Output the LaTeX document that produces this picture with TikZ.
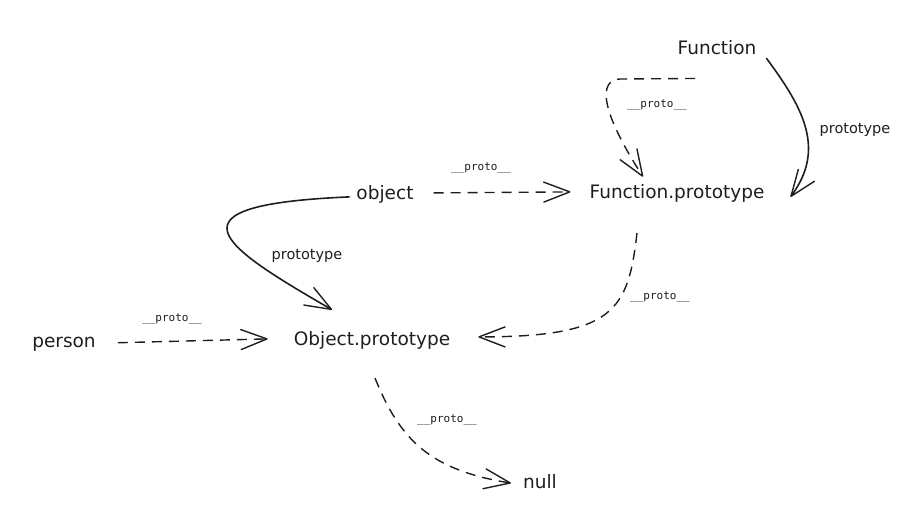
\documentclass[tikz,border=0pt]{standalone}
\usepackage{fontspec}
\setmainfont{DejaVu Sans}
\setmonofont{DejaVu Sans Mono}
\usetikzlibrary{arrows.meta}
\definecolor{ink}{HTML}{1E1E1E}
\tikzset{
  x=1pt, y=-1pt,
  obj/.style={inner sep=0pt, text=ink, font=\fontsize{18.5}{20}\selectfont, anchor=base},
  lbl/.style={inner sep=0pt, text=ink, font=\ttfamily\fontsize{11}{12}\selectfont},
  plbl/.style={inner sep=0pt, text=ink, font=\fontsize{14.5}{16}\selectfont},
  tip/.style={-{Straight Barb[length=26pt,width=20pt,line width=1.4pt,round]}},
  solidarrow/.style={draw=ink, line width=1.6pt, line cap=round, tip},
  dasharrow/.style={draw=ink, line width=1.4pt, dash pattern=on 10pt off 7pt, tip},
}
\begin{document}
\begin{tikzpicture}
\useasboundingbox (0,0) rectangle (916,524);
% nodes
\node[obj] (Fn)  at (717,55)  {Function};
\node[obj] (Fp)  at (677,199) {Function.prototype};
\node[obj] (ob)  at (385,200) {object};
\node[obj] (Op)  at (372,345) {Object.prototype};
\node[obj] (pe)  at (64,347)  {person};
\node[obj] (nu)  at (540,488) {null};
% labels
\node[lbl]  (l1) at (657,105) {\_\_proto\_\_};
\node[plbl] (p1) at (855,130) {prototype};
\node[lbl]  (l2) at (481,168) {\_\_proto\_\_};
\node[plbl] (p2) at (307,256) {prototype};
\node[lbl]  (l3) at (172,319) {\_\_proto\_\_};
\node[lbl]  (l4) at (660,297) {\_\_proto\_\_};
\node[lbl]  (l5) at (447,420) {\_\_proto\_\_};
% connectors
\draw[solidarrow] ([shift={(10,3)}]Fn.south east)
   .. controls (805,110) and (825,150) .. ([shift={(26,3)}]Fp.east);
\draw[dasharrow] ([shift={(-22,23)}]Fn.south) -- (620,79)
   .. controls (598,80) and (600,110) .. ([shift={(-34,-8)}]Fp.north);
\draw[dasharrow] ([shift={(20,-2)}]ob.east) -- ([shift={(-19,-2)}]Fp.west);
\draw[solidarrow] ([shift={(-7,2)}]ob.west)
   .. controls (160,205) and (220,245) .. ([shift={(-40,-21)}]Op.north);
\draw[dasharrow] ([shift={(22,-1)}]pe.east) -- ([shift={(-26,-1)}]Op.west);
\draw[dasharrow] ([shift={(-40,30)}]Fp.south)
   .. controls (628,310) and (615,337) .. ([shift={(28,-3)}]Op.east);
\draw[dasharrow] ([shift={(3,29)}]Op.south)
   .. controls (400,440) and (430,470) .. ([shift={(-12,2)}]nu.west);
\end{tikzpicture}
\end{document}
